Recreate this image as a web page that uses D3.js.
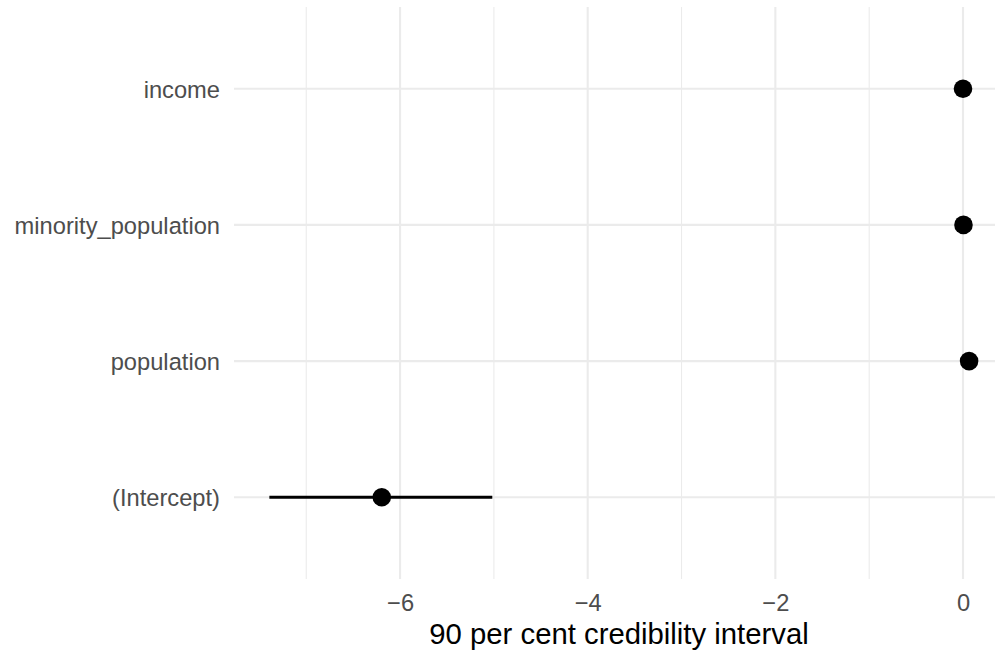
<!DOCTYPE html>
<html>
<head>
<meta charset="utf-8">
<script src="https://cdn.jsdelivr.net/npm/d3@7"></script>
<style>
  html, body { margin: 0; padding: 0; background: #ffffff; }
  svg { display: block; }
</style>
</head>
<body>
<svg id="chart" width="995" height="651"></svg>
<script>
// Model terms, top to bottom
const terms = ["income", "minority_population", "population", "(Intercept)"];
// Posterior medians and 90% credibility bounds
const estimates = [0.000, 0.005, 0.065, -6.195];
const lower = [-0.004, 0.001, 0.055, -7.393];
const upper = [0.004, 0.009, 0.075, -5.017];
// Axis ticks
const majorTicks = [-6, -4, -2, 0];
const minorTicks = [-7, -5, -3, -1];
const xTitle = "90 per cent credibility interval";

const svg = d3.select("#chart");
// plotting panel; its right side runs past the visible edge
const panel = { left: 234, right: 1004, top: 7, bottom: 579 };

const x = d3.scaleLinear().domain([-7.77, 0.437]).range([panel.left, panel.right]);
const y = d3.scalePoint().domain(terms).range([panel.top, panel.bottom]).padding(0.6);

const grid = svg.append("g");
// minor vertical gridlines
grid.selectAll("line.minor").data(minorTicks).join("line")
  .attr("x1", d => x(d)).attr("x2", d => x(d))
  .attr("y1", panel.top).attr("y2", panel.bottom)
  .attr("stroke", "#ebebeb").attr("stroke-width", 1.1);
// major vertical gridlines
grid.selectAll("line.major").data(majorTicks).join("line")
  .attr("x1", d => x(d)).attr("x2", d => x(d))
  .attr("y1", panel.top).attr("y2", panel.bottom)
  .attr("stroke", "#ebebeb").attr("stroke-width", 2.1);
// horizontal gridlines at each term
grid.selectAll("line.h").data(terms).join("line")
  .attr("x1", panel.left).attr("x2", panel.right)
  .attr("y1", d => y(d)).attr("y2", d => y(d))
  .attr("stroke", "#ebebeb").attr("stroke-width", 2.1);

// y axis labels
const yAxis = d3.axisLeft(y).tickSize(0).tickPadding(14);
const gy = svg.append("g").attr("transform", `translate(${panel.left},0)`).call(yAxis);
gy.select(".domain").remove();
gy.selectAll("text")
  .attr("fill", "#4d4d4d")
  .style("font-family", "'Liberation Sans', Arial, sans-serif")
  .style("font-size", "23.7px")
  .attr("dy", "0.36em");

// x axis labels
const xAxis = d3.axisBottom(x).tickValues(majorTicks).tickSize(0).tickPadding(0)
  .tickFormat(d => d3.format("d")(d).replace("-", "\u2212"));
const gx = svg.append("g").attr("transform", `translate(0,${panel.bottom})`).call(xAxis);
gx.select(".domain").remove();
gx.selectAll("text")
  .attr("fill", "#4d4d4d")
  .attr("y", 32).attr("dy", 0)
  .style("font-family", "'Liberation Sans', Arial, sans-serif")
  .style("font-size", "23.7px");

// x axis title, centred on the panel
svg.append("text")
  .attr("x", (panel.left + panel.right) / 2)
  .attr("y", 644)
  .attr("text-anchor", "middle")
  .attr("fill", "#000000")
  .style("font-family", "'Liberation Sans', Arial, sans-serif")
  .style("font-size", "29.3px")
  .text(xTitle);

// intervals and points
const rows = terms.map((t, i) => ({ term: t, est: estimates[i], lo: lower[i], hi: upper[i] }));
const marks = svg.append("g");
marks.selectAll("line.ci").data(rows).join("line")
  .attr("x1", d => x(d.lo)).attr("x2", d => x(d.hi))
  .attr("y1", d => y(d.term)).attr("y2", d => y(d.term))
  .attr("stroke", "#000").attr("stroke-width", 3);
marks.selectAll("circle").data(rows).join("circle")
  .attr("cx", d => x(d.est)).attr("cy", d => y(d.term))
  .attr("r", 9.3).attr("fill", "#000");
</script>
</body>
</html>
